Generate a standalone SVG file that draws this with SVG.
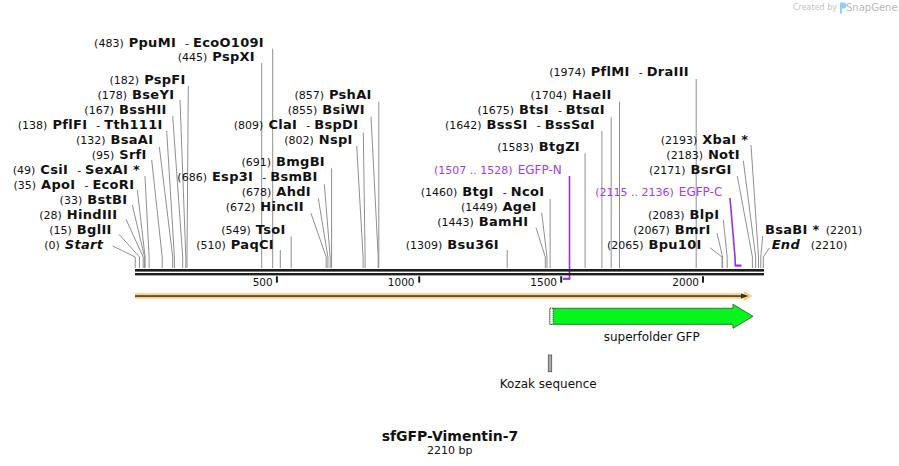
<svg xmlns="http://www.w3.org/2000/svg" width="899" height="466" viewBox="0 0 899 466">
<style>
text{font-family:"DejaVu Sans",Verdana,sans-serif;font-size:11px;fill:#111}
.b{font-weight:bold;font-size:13px;letter-spacing:0.3px}
.i{font-style:italic}
.p{fill:#a03cf0}
.l{stroke:#8f8f8f;stroke-width:1;fill:none}
.pl{stroke:#9a2cf0;stroke-width:1.6;fill:none}
.tk{font-size:10.5px}
</style>
<rect width="899" height="466" fill="#fff"/>
<g id="watermark">
<text x="837" y="10" text-anchor="end" style="font-size:8px;fill:#c4c4c4">Created by</text>
<path d="M840 2.5h3.5a3 3 0 0 1 0 6h-1.5v5h-2z" fill="#8fd0f2"/>
<text x="846" y="11" style="font-size:10px;fill:#b8b8b8">SnapGene</text>
</g>
<g id="connectors">
<polyline class="l" points="112.7,246 135.2,257 135.2,268"/>
<polyline class="l" points="119,234.3 139.5,257 139.5,268"/>
<polyline class="l" points="126,219.3 143.2,257 143.2,268"/>
<polyline class="l" points="132.3,205 144.6,257 144.6,268"/>
<polyline class="l" points="137.3,190 145.1,257 145.1,268"/>
<polyline class="l" points="145,176 149.1,257 149.1,268"/>
<polyline class="l" points="151.7,160 162.2,257 162.2,268"/>
<polyline class="l" points="159.3,146.7 172.7,257 172.7,268"/>
<polyline class="l" points="166.7,131 174.4,257 174.4,268"/>
<polyline class="l" points="172.7,116 182.7,257 182.7,268"/>
<polyline class="l" points="180,100 185.8,257 185.8,268"/>
<polyline class="l" points="188.3,86 187,257 187,268"/>
<polyline class="l" points="261.7,63 261.7,268"/>
<polyline class="l" points="272.7,48.5 272.7,268"/>
<polyline class="l" points="280.3,250 280.3,268"/>
<polyline class="l" points="291.2,236.5 291.2,268"/>
<polyline class="l" points="311,213.3 326.2,257 326.2,268"/>
<polyline class="l" points="318.3,198.3 327.9,257 327.9,268"/>
<polyline class="l" points="324.3,184.3 330.2,257 330.2,268"/>
<polyline class="l" points="331.6,168.3 331.6,268"/>
<polyline class="l" points="356.7,146 363.1,257 363.1,268"/>
<polyline class="l" points="363.3,132.7 365.1,257 365.1,268"/>
<polyline class="l" points="371,116.7 378.2,257 378.2,268"/>
<polyline class="l" points="378.8,101.7 378.8,268"/>
<polyline class="l" points="507.2,250 507.2,268"/>
<polyline class="l" points="536,227.7 545.3,257 545.3,268"/>
<polyline class="l" points="541.7,212.7 547,257 547,268"/>
<polyline class="l" points="550.1,199 550.1,268"/>
<polyline class="l" points="585.1,153.3 585.1,268"/>
<polyline class="l" points="601.9,131 601.9,268"/>
<polyline class="l" points="611.2,117.3 611.2,268"/>
<polyline class="l" points="619.5,101.7 619.5,268"/>
<polyline class="l" points="696.2,79 696.2,268"/>
<polyline class="l" points="710,247.7 722.1,257 722.1,268"/>
<polyline class="l" points="717,233 722.6,257 722.6,268"/>
<polyline class="l" points="723.3,220 727.2,257 727.2,268"/>
<polyline class="l" points="737.3,176 752.4,257 752.4,268"/>
<polyline class="l" points="743.3,160.7 755.7,257 755.7,268"/>
<polyline class="l" points="751,145 758.5,257 758.5,268"/>
<polyline class="l" points="762.7,236 760.8,257 760.8,268"/>
<polyline class="l" points="769.3,248 763.3,257 763.3,268"/>
<polyline class="pl" points="569.5,176 569.5,279"/>
<rect x="563" y="277.7" width="7.3" height="2.2" fill="#9a2cf0"/>
<polyline class="pl" points="730,198 735,257 735.3,265"/>
<rect x="734.5" y="264.5" width="7" height="2.2" fill="#9a2cf0"/>
</g>
<g id="sequence">
<rect x="135" y="269" width="629" height="2.6" fill="#1e1e1e"/>
<rect x="135" y="273" width="629" height="2.4" fill="#1e1e1e"/>
<rect x="275.9" y="276.3" width="2" height="6.4" fill="#1e1e1e"/>
<rect x="418.2" y="276.3" width="2" height="6.4" fill="#1e1e1e"/>
<rect x="560.2" y="276.3" width="2" height="6.4" fill="#1e1e1e"/>
<rect x="702" y="276.3" width="2" height="6.4" fill="#1e1e1e"/>
<text class="tk" x="272.7" y="285.5" text-anchor="end">500</text>
<text class="tk" x="414.5" y="285.5" text-anchor="end">1000</text>
<text class="tk" x="557" y="285.5" text-anchor="end">1500</text>
<text class="tk" x="699" y="285.5" text-anchor="end">2000</text>
</g>
<g id="orf">
<polygon points="135,293.3 744,293.3 744,291 752.5,296 744,301 744,298.7 135,298.7" fill="#fbd083"/>
<rect x="135" y="295.3" width="607" height="1.5" fill="#3a3328"/>
<polygon points="741,293.6 748.5,296 741,298.4" fill="#3a3328"/>
</g>
<g id="superfolder-gfp">
<polygon points="550,308.3 733,308.3 733,304.3 753,316.3 733,328.3 733,324.3 550,324.3" fill="#05f51c" stroke="#3c6e3c" stroke-width="1"/>
<rect x="550" y="308.3" width="3" height="16" fill="#fff" stroke="#222" stroke-width="0.8" stroke-dasharray="1,1"/>
<text x="651.7" y="341" text-anchor="middle" style="font-size:12px">superfolder GFP</text>
</g>
<g id="kozak">
<rect x="548.3" y="355" width="3.4" height="16.7" fill="#a8a8a8" stroke="#555" stroke-width="0.8"/>
<text x="548.2" y="388" text-anchor="middle" style="font-size:12px">Kozak sequence</text>
</g>
<g id="title">
<text x="450" y="440.7" text-anchor="middle" style="font-size:14px;font-weight:bold">sfGFP-Vimentin-7</text>
<text x="449.7" y="453.5" text-anchor="middle" style="font-size:11px">2210 bp</text>
</g>
<g id="site-start"><text x="103.3" y="248.5" text-anchor="end">(0)<tspan class="b i" dx="5">Start</tspan></text></g>
<g id="site-bglii"><text x="111.7" y="233.5" text-anchor="end">(15)<tspan class="b" dx="5">BglII</tspan></text></g>
<g id="site-hindiii"><text x="117.3" y="218.5" text-anchor="end">(28)<tspan class="b" dx="5">HindIII</tspan></text></g>
<g id="site-bstbi"><text x="127.3" y="203.5" text-anchor="end">(33)<tspan class="b" dx="5">BstBI</tspan></text></g>
<g id="site-apoi"><text x="134.3" y="188.5" text-anchor="end">(35)<tspan class="b" dx="5">ApoI</tspan><tspan dx="9">-</tspan><tspan class="b" dx="4">EcoRI</tspan></text></g>
<g id="site-csii"><text x="140" y="173.5" text-anchor="end">(49)<tspan class="b" dx="5">CsiI</tspan><tspan dx="9">-</tspan><tspan class="b" dx="4">SexAI *</tspan></text></g>
<g id="site-srfi"><text x="146.7" y="158.5" text-anchor="end">(95)<tspan class="b" dx="5">SrfI</tspan></text></g>
<g id="site-bsaai"><text x="153.3" y="143.5" text-anchor="end">(132)<tspan class="b" dx="5">BsaAI</tspan></text></g>
<g id="site-pflfi"><text x="162.7" y="128.5" text-anchor="end">(138)<tspan class="b" dx="5">PflFI</tspan><tspan dx="9">-</tspan><tspan class="b" dx="4">Tth111I</tspan></text></g>
<g id="site-bsshii"><text x="166.7" y="113.5" text-anchor="end">(167)<tspan class="b" dx="5">BssHII</tspan></text></g>
<g id="site-bseyi"><text x="174.3" y="98.5" text-anchor="end">(178)<tspan class="b" dx="5">BseYI</tspan></text></g>
<g id="site-pspfi"><text x="185.7" y="83.5" text-anchor="end">(182)<tspan class="b" dx="5">PspFI</tspan></text></g>
<g id="site-pspxi"><text x="255" y="61" text-anchor="end">(445)<tspan class="b" dx="5">PspXI</tspan></text></g>
<g id="site-ppumi"><text x="264" y="46.5" text-anchor="end">(483)<tspan class="b" dx="5">PpuMI</tspan><tspan dx="9">-</tspan><tspan class="b" dx="4">EcoO109I</tspan></text></g>
<g id="site-paqci"><text x="274" y="248.5" text-anchor="end">(510)<tspan class="b" dx="5">PaqCI</tspan></text></g>
<g id="site-tsoi"><text x="285.7" y="233.5" text-anchor="end">(549)<tspan class="b" dx="5">TsoI</tspan></text></g>
<g id="site-hincii"><text x="304" y="210.5" text-anchor="end">(672)<tspan class="b" dx="5">HincII</tspan></text></g>
<g id="site-ahdi"><text x="311" y="195.5" text-anchor="end">(678)<tspan class="b" dx="5">AhdI</tspan></text></g>
<g id="site-esp3i"><text x="317.7" y="180.5" text-anchor="end">(686)<tspan class="b" dx="5">Esp3I</tspan><tspan dx="9">-</tspan><tspan class="b" dx="4">BsmBI</tspan></text></g>
<g id="site-bmgbi"><text x="325" y="165.5" text-anchor="end">(691)<tspan class="b" dx="5">BmgBI</tspan></text></g>
<g id="site-nspi"><text x="352.7" y="143.5" text-anchor="end">(802)<tspan class="b" dx="5">NspI</tspan></text></g>
<g id="site-clai"><text x="358.3" y="128.5" text-anchor="end">(809)<tspan class="b" dx="5">ClaI</tspan><tspan dx="9">-</tspan><tspan class="b" dx="4">BspDI</tspan></text></g>
<g id="site-bsiwi"><text x="365" y="113.5" text-anchor="end">(855)<tspan class="b" dx="5">BsiWI</tspan></text></g>
<g id="site-pshai"><text x="371.7" y="98.5" text-anchor="end">(857)<tspan class="b" dx="5">PshAI</tspan></text></g>
<g id="site-bsu36i"><text x="499" y="248.5" text-anchor="end">(1309)<tspan class="b" dx="5">Bsu36I</tspan></text></g>
<g id="site-bamhi"><text x="528.3" y="225.5" text-anchor="end">(1443)<tspan class="b" dx="5">BamHI</tspan></text></g>
<g id="site-agei"><text x="536.7" y="210.5" text-anchor="end">(1449)<tspan class="b" dx="5">AgeI</tspan></text></g>
<g id="site-btgi"><text x="544.3" y="195.5" text-anchor="end">(1460)<tspan class="b" dx="5">BtgI</tspan><tspan dx="9">-</tspan><tspan class="b" dx="4">NcoI</tspan></text></g>
<g id="primer-egfp-n"><text class="p" x="561.7" y="173.5" text-anchor="end">(1507 .. 1528)<tspan dx="5" style="font-size:12px">EGFP-N</tspan></text></g>
<g id="site-btgzi"><text x="580" y="150.5" text-anchor="end">(1583)<tspan class="b" dx="5">BtgZI</tspan></text></g>
<g id="site-bsssi"><text x="595" y="128.5" text-anchor="end">(1642)<tspan class="b" dx="5">BssSI</tspan><tspan dx="9">-</tspan><tspan class="b" dx="4">BssSαI</tspan></text></g>
<g id="site-btsi"><text x="605" y="113.5" text-anchor="end">(1675)<tspan class="b" dx="5">BtsI</tspan><tspan dx="9">-</tspan><tspan class="b" dx="4">BtsαI</tspan></text></g>
<g id="site-haeii"><text x="611.7" y="98.5" text-anchor="end">(1704)<tspan class="b" dx="5">HaeII</tspan></text></g>
<g id="site-pflmi"><text x="689" y="76" text-anchor="end">(1974)<tspan class="b" dx="5">PflMI</tspan><tspan dx="9">-</tspan><tspan class="b" dx="4">DraIII</tspan></text></g>
<g id="site-bpu10i"><text x="701.7" y="248.5" text-anchor="end">(2065)<tspan class="b" dx="5">Bpu10I</tspan></text></g>
<g id="site-bmri"><text x="710.7" y="233.5" text-anchor="end">(2067)<tspan class="b" dx="5">BmrI</tspan></text></g>
<g id="site-blpi"><text x="719.3" y="218.5" text-anchor="end">(2083)<tspan class="b" dx="5">BlpI</tspan></text></g>
<g id="primer-egfp-c"><text class="p" x="722.3" y="196" text-anchor="end">(2115 .. 2136)<tspan dx="5" style="font-size:12px">EGFP-C</tspan></text></g>
<g id="site-bsrgi"><text x="731.7" y="173.5" text-anchor="end">(2171)<tspan class="b" dx="5">BsrGI</tspan></text></g>
<g id="site-noti"><text x="740" y="158.5" text-anchor="end">(2183)<tspan class="b" dx="5">NotI</tspan></text></g>
<g id="site-xbai"><text x="748.3" y="143.5" text-anchor="end">(2193)<tspan class="b" dx="5">XbaI *</tspan></text></g>
<g id="site-bsabi"><text class="b" x="765" y="233.5">BsaBI *</text><text x="825.7" y="233.5">(2201)</text></g>
<g id="site-end"><text class="b i" x="771.7" y="248.5">End</text><text x="810.7" y="248.5">(2210)</text></g>
</svg>
